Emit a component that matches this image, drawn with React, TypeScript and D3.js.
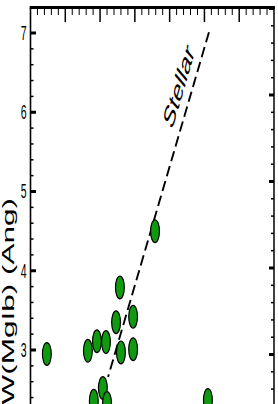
import React from 'react';
import * as d3 from 'd3';

// ---- data ----
const xMajorTicks = [1, 2, 3, 4, 5, 6];
const yMajorTicks = [3, 4, 5, 6, 7];
const yTickLabels = ['3', '4', '5', '6', '7'];
const rightMajorTicks = [0, 1, 2, 3, 4];
const pointX = [0.47, 1.65, 1.91, 2.17, 2.46, 2.57, 2.6, 2.95, 2.95, 2.08, 1.82, 2.2, 3.58, 5.1];
const pointY = [2.95, 2.99, 3.11, 3.1, 3.35, 3.79, 2.97, 3.42, 3.01, 2.52, 2.36, 2.33, 4.5, 2.37];
const stellarX = [5.13, 2.23];
const stellarY = [7.01, 2.66];
const yLabel = 'EW(MgIb) (Ang)';
const lineLabel = 'Stellar';

const W = 278;
const H = 404;
const FONT = "'Liberation Sans', Arial, Helvetica, sans-serif";
const SX = 0.5; // horizontal squeeze of the original picture

export default function App() {
  const x = d3.scaleLinear().domain([0, 7]).range([30.5, 274]);
  const y = d3.scaleLinear().domain([3, 7]).range([350, 33]);
  const yR = d3.scaleLinear().domain([0, 4]).range([354.5, 8.5]);

  const left = x(0);
  const right = x(7);
  const top = 7.6;
  const bottom = H + 20;

  const topMinor = d3.range(1, 35).map((i) => i / 5).filter((v) => Math.abs(v - Math.round(v)) > 1e-6);
  const leftMinor = d3.range(10, 36).map((i) => i / 5).filter((v) => Math.abs(v - Math.round(v)) > 1e-6);
  const rightMinor = d3.range(-5, 20).map((i) => i / 5).filter((v) => Math.abs(v - Math.round(v)) > 1e-6);

  const line = d3
    .line<number>()
    .x((_, i) => x(stellarX[i]))
    .y((d) => y(d));

  const x0 = x(stellarX[0]);
  const y0 = y(stellarY[0]);
  const x1 = x(stellarX[1]);
  const y1 = y(stellarY[1]);
  const ang = (Math.atan2(y0 - y1, (x0 - x1) / SX) * 180) / Math.PI;

  return (
    <svg
      width={W}
      height={H}
      style={{ position: 'absolute', left: 0, top: 0, background: '#fff' }}
      fontFamily={FONT}
    >
      <rect x={0} y={0} width={W} height={H} fill="#fff" />
      {/* dashed stellar line */}
      <path d={line(stellarY) || ''} fill="none" stroke="#000" strokeWidth={1.9} strokeDasharray="10.5,5" />
      <text
        transform={`translate(${(x0 + x1) / 2 + 25},${(y0 + y1) / 2 - 113}) scale(${SX},1) rotate(${ang})`}
        textAnchor="middle"
        fontSize={32}
        fill="#000"
      >
        {lineLabel}
      </text>

      {/* points */}
      {pointX.map((px, i) => (
        <ellipse
          key={i}
          cx={x(px)}
          cy={y(pointY[i])}
          rx={4.4}
          ry={11.4}
          fill="#109a10"
          stroke="#000"
          strokeWidth={1.2}
        />
      ))}

      {/* frame */}
      <line x1={left} x2={left} y1={top} y2={bottom} stroke="#000" strokeWidth={1.6} />
      <line x1={right} x2={right} y1={top} y2={bottom} stroke="#000" strokeWidth={1.5} />
      <line x1={left - 0.8} x2={right + 1} y1={top} y2={top} stroke="#000" strokeWidth={3} />

      {/* top ticks */}
      {topMinor.map((v, i) => (
        <line key={'tm' + i} x1={x(v)} x2={x(v)} y1={top} y2={15} stroke="#000" strokeWidth={1} />
      ))}
      {xMajorTicks.map((v, i) => (
        <line key={'tM' + i} x1={x(v)} x2={x(v)} y1={top} y2={22} stroke="#000" strokeWidth={1.5} />
      ))}

      {/* left ticks */}
      {leftMinor.map((v, i) => (
        <line key={'lm' + i} x1={left} x2={left + 3} y1={y(v)} y2={y(v)} stroke="#000" strokeWidth={1.5} />
      ))}
      {yMajorTicks.map((v, i) => (
        <line key={'lM' + i} x1={left} x2={left + 5.5} y1={y(v)} y2={y(v)} stroke="#000" strokeWidth={3} />
      ))}
      {yMajorTicks.map((v, i) => (
        <text
          key={'lt' + i}
          transform={`translate(26.5,${y(v)}) scale(${SX},1)`}
          textAnchor="end"
          dominantBaseline="central"
          fontSize={21}
          fill="#000"
        >
          {yTickLabels[i]}
        </text>
      ))}

      {/* right ticks */}
      {rightMinor.map((v, i) => (
        <line key={'rm' + i} x1={right} x2={right - 3} y1={yR(v)} y2={yR(v)} stroke="#000" strokeWidth={1.5} />
      ))}
      {rightMajorTicks.map((v, i) => (
        <line key={'rM' + i} x1={right} x2={right - 5} y1={yR(v)} y2={yR(v)} stroke="#000" strokeWidth={3} />
      ))}

      {/* y label */}
      <text
        transform={`translate(13.5,198) scale(${SX},1) rotate(-90)`}
        textAnchor="end"
        fontSize={31.5}
        fill="#000"
      >
        {yLabel}
      </text>
    </svg>
  );
}
